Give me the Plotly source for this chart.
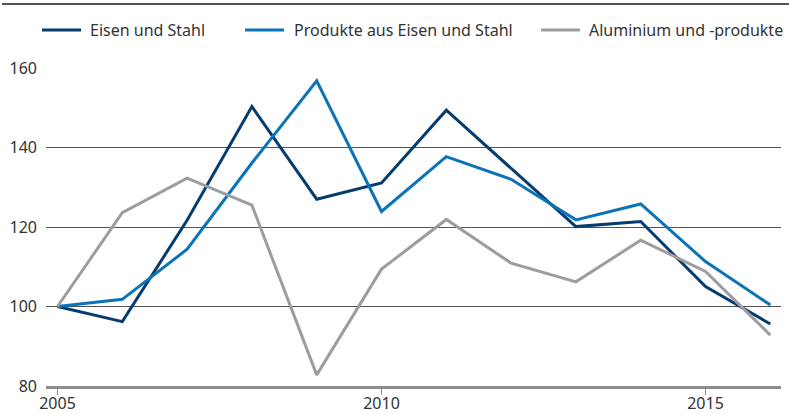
import plotly.graph_objects as go

years = list(range(2005, 2017))
eisen_stahl = [100, 96.2, 121.7, 150.3, 127.0, 131.1, 149.4, 134.8, 120.1, 121.4, 105.0, 95.6]
produkte = [100, 101.8, 114.4, 136.1, 156.8, 123.9, 137.7, 132.0, 121.8, 125.8, 111.3, 100.4]
aluminium = [100, 123.6, 132.3, 125.5, 82.8, 109.4, 121.9, 110.9, 106.2, 116.7, 108.8, 92.8]

names = ["Eisen und Stahl", "Produkte aus Eisen und Stahl", "Aluminium und -produkte"]
colors = ["#063d6e", "#0b74b8", "#9d9d9f"]
series = [eisen_stahl, produkte, aluminium]

x_ticks = [2005, 2010, 2015]
y_ticks = [80, 100, 120, 140, 160]

W, H = 789, 414
L, R, T, B = 46, 8, 68, 28
FONT = "Noto Sans"

fig = go.Figure()
for n, c, s in zip(names, colors, series):
    fig.add_trace(go.Scatter(x=years, y=s, name=n, mode="lines",
                             line=dict(color=c, width=3), showlegend=False,
                             hoverinfo="skip"))

pw = W - L - R
ph = H - T - B

def px_x(p):
    return (p - L) / pw

def px_y(p):
    return (H - B - p) / ph

# manual legend
leg_y = 30
leg_items = [(42, 81, 88), (245, 284, 292), (541, 580, 587)]
for (x0, x1, tx), n, c in zip(leg_items, names, colors):
    fig.add_shape(type="line", xref="paper", yref="paper",
                  x0=px_x(x0), x1=px_x(x1), y0=px_y(leg_y), y1=px_y(leg_y),
                  line=dict(color=c, width=3))
    fig.add_annotation(xref="paper", yref="paper", x=px_x(tx), y=px_y(leg_y),
                       text=n, showarrow=False, xanchor="left", yanchor="middle",
                       font=dict(family=FONT, size=16, color="#333333"))

# top rule
fig.add_shape(type="line", xref="paper", yref="paper",
              x0=px_x(2), x1=px_x(789), y0=px_y(4), y1=px_y(4),
              line=dict(color="#555555", width=2))

fig.update_layout(
    width=W, height=H,
    margin=dict(l=L, r=R, t=T, b=B, pad=0, autoexpand=False),
    plot_bgcolor="white", paper_bgcolor="white",
    font=dict(family=FONT, size=16, color="#333333"),
    xaxis=dict(range=[2004.8225, 2016.165], tickvals=x_ticks,
               ticktext=[str(v) for v in x_ticks],
               showgrid=False, zeroline=False, automargin=False,
               showline=True, linecolor="#8c8c8c", linewidth=2.5,
               ticks="outside", ticklen=6, tickcolor="#8c8c8c", tickwidth=1,
               ticklabelstandoff=-5),
    yaxis=dict(range=[80, 160], tickvals=y_ticks, automargin=False,
               showgrid=True, gridcolor="#555555", gridwidth=1,
               zeroline=False, showline=False, ticks="",
               ticklabelstandoff=8),
)

fig.write_html("out.html", config={"displayModeBar": False},
               post_script="document.body.style.margin='0';document.body.style.overflow='hidden';")
